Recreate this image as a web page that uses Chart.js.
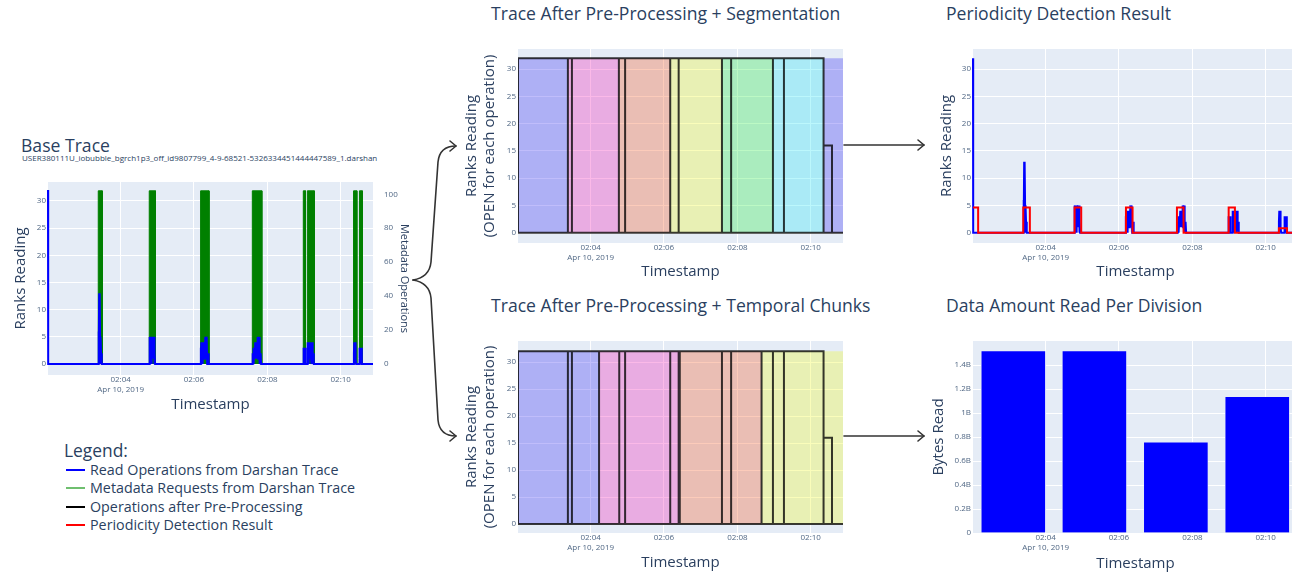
<!DOCTYPE html>
<html>
<head>
<meta charset="utf-8">
<script src="https://cdn.jsdelivr.net/npm/chart.js@4.4.0/dist/chart.umd.min.js"></script>
<style>
  body { margin: 0; width: 1292px; height: 572px; overflow: hidden; background: #fff; position: relative;
         font-family: 'Open Sans', sans-serif; color: #2a3f5f; }
  canvas, .txt, svg { position: absolute; }
  .txt { white-space: nowrap; }
  .leg { position: absolute; left: 66px; width: 19px; height: 2px; }
</style>
</head>
<body>

<div class="txt" style="left:21px; top:135px; font-size:17.6px; line-height:20px;">Base Trace</div>
<div class="txt" style="left:22px; top:153px; font-size:8px; line-height:10px;">USER380111U_iobubble_bgrch1p3_off_id9807799_4-9-68521-5326334451444447589_1.darshan</div>
<div class="txt" style="left:491px; top:3px; font-size:17.6px; line-height:20px;">Trace After Pre-Processing + Segmentation</div>
<div class="txt" style="left:946px; top:3px; font-size:17.6px; line-height:20px;">Periodicity Detection Result</div>
<div class="txt" style="left:491px; top:295px; font-size:17.6px; line-height:20px;">Trace After Pre-Processing + Temporal Chunks</div>
<div class="txt" style="left:946px; top:295px; font-size:17.6px; line-height:20px;">Data Amount Read Per Division</div>

<div class="txt" style="left:64px; top:440px; font-size:17.4px; line-height:20px;">Legend:</div>
<div class="leg" style="top:469px; background:#0000ff;"></div>
<div class="txt" style="left:90px; top:461px; font-size:14.3px; line-height:17px;">Read Operations from Darshan Trace</div>
<div class="leg" style="top:487px; background:#6fbf6f;"></div>
<div class="txt" style="left:90px; top:479px; font-size:14.3px; line-height:17px;">Metadata Requests from Darshan Trace</div>
<div class="leg" style="top:506px; background:#000;"></div>
<div class="txt" style="left:90px; top:498px; font-size:14.3px; line-height:17px;">Operations after Pre-Processing</div>
<div class="leg" style="top:524px; background:#ff0000;"></div>
<div class="txt" style="left:90px; top:516px; font-size:14.3px; line-height:17px;">Periodicity Detection Result</div>

<svg width="1292" height="572" style="left:0; top:0; pointer-events:none;">
  <g fill="none" stroke="#333" stroke-width="1.6" stroke-linecap="round" stroke-linejoin="round">
    <path d="M413,280 C425,278 430,272 431,262 L438,162 C439,152 445,146 456,146"/>
    <path d="M450,141 L456,146 L450,151"/>
    <path d="M413,280 C425,282 430,288 431,298 L438,420 C439,430 445,436 456,436"/>
    <path d="M450,431 L456,436 L450,441"/>
    <path d="M844,145 L924,145"/>
    <path d="M918,140 L924,145 L918,150"/>
    <path d="M844,436 L924,436"/>
    <path d="M918,431 L924,436 L918,441"/>
  </g>
</svg>

<canvas id="cBase" width="413" height="233" style="left:0px; top:182px;"></canvas>
<canvas id="cSeg" width="383" height="234" style="left:460px; top:49px;"></canvas>
<canvas id="cChunk" width="383" height="232" style="left:460px; top:341px;"></canvas>
<canvas id="cPer" width="378" height="234" style="left:920px; top:49px;"></canvas>
<canvas id="cBytes" width="378" height="232" style="left:920px; top:341px;"></canvas>

<script>
// time is minutes after 02:00 on Apr 10, 2019
const timeMin = 2.02;
const timeMax = 10.88;
const timeTicks = [4, 6, 8, 10];
const timeLabels = ["02:04", "02:06", "02:08", "02:10"];
const dateLabel = "Apr 10, 2019";

const rankTicks = [0, 5, 10, 15, 20, 25, 30];
const metaTicks = [0, 20, 40, 60, 80, 100];
const bytesTicks = [0, 0.2e9, 0.4e9, 0.6e9, 0.8e9, 1.0e9, 1.2e9, 1.4e9];

// read operations (ranks reading)
const readTime = [
  2.02, 2.025, 3.39,
  3.395, 3.40, 3.405, 3.41, 3.415, 3.42, 3.425, 3.43, 3.435, 3.44, 3.445, 3.45, 3.455, 3.46, 3.47, 3.48, 3.49, 4.78,
  4.785, 4.79, 4.80, 4.81, 4.82, 4.83, 4.84, 4.85, 4.86, 4.87, 4.88, 4.89, 4.90, 4.91, 4.92, 4.93, 4.94, 6.18,
  6.185, 6.19, 6.20, 6.21, 6.22, 6.23, 6.24, 6.25, 6.26, 6.27, 6.28, 6.29, 6.30, 6.31, 6.32, 6.33, 6.34, 6.35, 6.36, 6.37, 6.38, 6.39, 6.40, 7.59,
  7.60, 7.61, 7.62, 7.63, 7.64, 7.65, 7.66, 7.67, 7.68, 7.69, 7.70, 7.71, 7.72, 7.73, 7.74, 7.75, 7.76, 7.77, 7.78, 7.79, 7.80, 7.81, 7.82, 7.83, 8.98,
  8.99, 9.00, 9.01, 9.02, 9.03, 9.04,
  9.09, 9.10, 9.11, 9.12, 9.13, 9.14, 9.15, 9.16, 9.17, 9.18, 9.19, 9.20, 9.21, 9.22, 9.23, 9.24, 9.25, 9.26, 9.27, 10.35,
  10.36, 10.37, 10.38, 10.39, 10.40, 10.41, 10.42, 10.50, 10.51, 10.52, 10.53, 10.54, 10.55, 10.56, 10.57, 10.58, 10.88
];
const readRanks = [
  32, 0, 0,
  6, 1, 6, 2, 13, 4, 13, 3, 13, 5, 1, 5, 0, 5, 1, 2, 0, 0,
  2, 5, 1, 5, 2, 5, 0, 5, 3, 5, 1, 5, 2, 5, 0, 2, 0, 0,
  3, 1, 4, 2, 3, 0, 4, 1, 3, 4, 1, 4, 2, 5, 1, 5, 3, 5, 0, 2, 1, 2, 0, 0,
  2, 1, 3, 0, 2, 3, 1, 4, 2, 3, 4, 1, 4, 2, 5, 1, 5, 3, 5, 0, 2, 1, 2, 0, 0,
  3, 1, 3, 2, 3, 0,
  0, 4, 1, 4, 0, 4, 1, 4, 3, 4, 1, 4, 0, 4, 2, 2, 1, 2, 0, 0,
  2, 4, 1, 4, 2, 1, 0, 0, 3, 1, 3, 0, 3, 1, 3, 0, 0
];

// metadata requests
const metaTime = [
  2.02, 3.39, 3.39, 3.50, 3.50, 4.78, 4.78, 4.95, 4.95, 6.18, 6.18, 6.41, 6.41,
  7.59, 7.59, 7.85, 7.85, 8.98, 8.98, 9.04, 9.04, 9.09, 9.09, 9.28, 9.28,
  10.35, 10.35, 10.44, 10.44, 10.51, 10.51, 10.59, 10.59, 10.88
];
const metaOps = [
  0, 0, 102, 102, 0, 0, 102, 102, 0, 0, 102, 102, 0,
  0, 102, 102, 0, 0, 102, 102, 0, 0, 102, 102, 0,
  0, 102, 102, 0, 0, 102, 102, 0, 0
];

// operations after pre-processing (edges of each operation, ranks per operation)
const segOpEdges = [2.02, 3.38, 3.49, 4.77, 4.94, 6.17, 6.40, 7.58, 7.83, 8.97, 9.27, 10.35, 10.58];
const segOpRanks = [32, 32, 32, 32, 32, 32, 32, 32, 32, 32, 32, 16];
const segEdges = [2.02, 3.38, 4.77, 6.17, 7.58, 8.97, 10.35, 10.88];

const chunkOpEdges = [2.02, 3.38, 3.49, 4.23, 4.78, 4.94, 6.17, 6.40, 6.43, 7.58, 7.83, 8.66, 8.97, 9.27, 10.35, 10.58];
const chunkOpRanks = [32, 32, 32, 32, 32, 32, 32, 32, 32, 32, 32, 32, 32, 32, 16];
const chunkEdges = [2.02, 4.23, 6.43, 8.66, 10.88];

// periodicity detection result
const periodTime = [
  2.02, 2.16, 2.16, 3.39, 3.39, 3.57, 3.57, 4.79, 4.79, 4.97, 4.97, 6.19, 6.19, 6.37, 6.37,
  7.58, 7.58, 7.76, 7.76, 8.99, 8.99, 9.16, 9.16, 10.36, 10.36, 10.58, 10.58, 10.88
];
const periodValue = [
  4.6, 4.6, 0, 0, 4.6, 4.6, 0, 0, 4.6, 4.6, 0, 0, 4.6, 4.6, 0,
  0, 4.6, 4.6, 0, 0, 4.6, 4.6, 0, 0, 0.8, 0.8, 0, 0
];

// data amount read per temporal chunk
const chunkMid = [3.12, 5.33, 7.55, 9.77];
const bytesRead = [1.517e9, 1.517e9, 0.756e9, 1.135e9];

/* ---------- styling ---------- */
const tickColor = "#506784";
const titleColor = "#2a3f5f";
const segColors = [
  "rgba(46,36,243,0.3)", "rgba(242,23,179,0.3)", "rgba(246,83,26,0.3)",
  "rgba(239,249,26,0.3)", "rgba(32,236,59,0.3)", "rgba(32,229,246,0.3)", "rgba(46,36,243,0.3)"
];
const chunkColors = ["rgba(46,36,243,0.3)", "rgba(242,23,179,0.3)", "rgba(246,83,26,0.3)", "rgba(239,249,26,0.3)"];

Chart.defaults.font.family = "'Open Sans', sans-serif";
Chart.defaults.color = titleColor;

const plotBg = {
  id: "plotBg",
  beforeDraw(chart) {
    const { ctx, chartArea: a } = chart;
    ctx.save();
    ctx.fillStyle = "#E5ECF6";
    ctx.fillRect(a.left, a.top, a.right - a.left, a.bottom - a.top);
    ctx.restore();
  }
};

function pts(xs, ys) {
  return xs.map((x, i) => ({ x: x, y: ys[i] }));
}

function opPath(edges, ranks) {
  const p = [];
  for (let i = 0; i < ranks.length; i++) {
    const s = edges[i], e = edges[i + 1], r = ranks[i];
    p.push({ x: s, y: 0 }, { x: s, y: r }, { x: e, y: r }, { x: e, y: 0 }, { x: s, y: 0 }, { x: e, y: 0 });
  }
  p.push({ x: timeMax, y: 0 });
  return p;
}

function bands(edges, colors, h) {
  return edges.slice(0, -1).map((s, i) => ({
    data: [{ x: s, y: h }, { x: edges[i + 1], y: h }],
    fill: "origin", backgroundColor: colors[i], borderWidth: 0, pointRadius: 0, order: 5
  }));
}

function zeroPad(s) {
  s.paddingTop = s.paddingBottom = s.paddingLeft = s.paddingRight = 0;
}

function timeAxis(pb) {
  return {
    type: "linear", min: timeMin, max: timeMax, offset: false,
    afterBuildTicks: s => { s.ticks = timeTicks.map(v => ({ value: v })); },
    afterFit: s => { s.height = 40; zeroPad(s); },
    ticks: {
      padding: 0, autoSkip: false, maxRotation: 0, color: tickColor, font: { size: 8 },
      callback: (v, i) => i === 0 ? [timeLabels[0], dateLabel] : timeLabels[i]
    },
    grid: { color: "#ffffff", drawTicks: false, offset: false },
    border: { display: false },
    title: { display: true, text: "Timestamp", color: titleColor, font: { size: 15 }, padding: { top: 0, bottom: pb } }
  };
}

function rankAxis(width, text, pt, min, max) {
  return {
    position: "left", min: min, max: max,
    afterBuildTicks: s => { s.ticks = rankTicks.map(v => ({ value: v })); },
    afterFit: s => { s.width = width; zeroPad(s); },
    ticks: { padding: 2, color: tickColor, font: { size: 8 } },
    grid: { color: "#ffffff", drawTicks: false, lineWidth: c => c.tick && c.tick.value === 0 ? 2 : 1 },
    border: { display: false },
    title: { display: true, text: text, color: titleColor, font: { size: 15 }, padding: { top: pt, bottom: 0 } }
  };
}

function baseOptions(scales) {
  return {
    responsive: false, animation: false, devicePixelRatio: 1, events: [],
    layout: { padding: 0 },
    plugins: { legend: { display: false }, tooltip: { enabled: false } },
    elements: { point: { radius: 0 }, line: { tension: 0 } },
    scales: scales
  };
}

/* ---------- 1. base trace ---------- */
new Chart(document.getElementById("cBase"), {
  type: "line",
  data: {
    datasets: [
      { data: pts(readTime, readRanks), borderColor: "#0000ff", borderWidth: 2, yAxisID: "y", order: 1, clip: 3 },
      { data: pts(metaTime, metaOps), borderColor: "#008000", backgroundColor: "#008000", borderWidth: 1,
        fill: "origin", yAxisID: "y2", order: 2 }
    ]
  },
  options: baseOptions({
    x: timeAxis(1),
    y: rankAxis(48, "Ranks Reading", 12, -2.0, 33.45),
    y2: {
      position: "right", min: -6.5, max: 107.2,
      afterBuildTicks: s => { s.ticks = metaTicks.map(v => ({ value: v })); },
      afterFit: s => { s.width = 40; zeroPad(s); },
      ticks: { padding: 3, color: tickColor, font: { size: 8 } },
      grid: { display: false },
      border: { display: false },
      title: { display: true, text: "Metadata Operations", color: titleColor, font: { size: 11 }, padding: { top: 2, bottom: 0 } }
    }
  }),
  plugins: [plotBg]
});

/* ---------- 2. segmentation ---------- */
new Chart(document.getElementById("cSeg"), {
  type: "line",
  data: {
    datasets: [
      { data: opPath(segOpEdges, segOpRanks), borderColor: "rgba(0,0,0,0.78)", borderWidth: 2, order: 1 }
    ].concat(bands(segEdges, segColors, 32))
  },
  options: baseOptions({
    x: timeAxis(2),
    y: rankAxis(58, ["Ranks Reading", "(OPEN for each operation)"], 3, -1.9, 33.7)
  }),
  plugins: [plotBg]
});

/* ---------- 3. temporal chunks ---------- */
new Chart(document.getElementById("cChunk"), {
  type: "line",
  data: {
    datasets: [
      { data: opPath(chunkOpEdges, chunkOpRanks), borderColor: "rgba(0,0,0,0.78)", borderWidth: 2, order: 1 }
    ].concat(bands(chunkEdges, chunkColors, 32))
  },
  options: baseOptions({
    x: timeAxis(1),
    y: rankAxis(58, ["Ranks Reading", "(OPEN for each operation)"], 3, -1.66, 33.9)
  }),
  plugins: [plotBg]
});

/* ---------- 4. periodicity ---------- */
new Chart(document.getElementById("cPer"), {
  type: "line",
  data: {
    datasets: [
      { data: pts(periodTime, periodValue), borderColor: "#ff0000", borderWidth: 2, order: 1, clip: 3 },
      { data: pts(readTime, readRanks), borderColor: "#0000ff", borderWidth: 2, order: 2, clip: 3 }
    ]
  },
  options: baseOptions({
    x: timeAxis(2),
    y: rankAxis(53, "Ranks Reading", 18, -1.9, 33.7)
  }),
  plugins: [plotBg]
});

/* ---------- 5. bytes per division ---------- */
new Chart(document.getElementById("cBytes"), {
  type: "bar",
  data: {
    datasets: [
      { data: pts(chunkMid, bytesRead), backgroundColor: "#0000ff", borderColor: "#E5ECF6",
        borderWidth: 0.5, barThickness: 64 }
    ]
  },
  options: baseOptions({
    x: timeAxis(0),
    y: {
      position: "left", min: 0, max: 1.6e9,
      afterBuildTicks: s => { s.ticks = bytesTicks.map(v => ({ value: v })); },
      afterFit: s => { s.width = 53; zeroPad(s); },
      ticks: { padding: 2, color: tickColor, font: { size: 8 },
               callback: v => v === 0 ? "0" : (v / 1e9) + "B" },
      grid: { color: "#ffffff", drawTicks: false },
      border: { display: false },
      title: { display: true, text: "Bytes Read", color: titleColor, font: { size: 15 }, padding: { top: 10, bottom: 0 } }
    }
  }),
  plugins: [plotBg]
});
</script>
</body>
</html>
